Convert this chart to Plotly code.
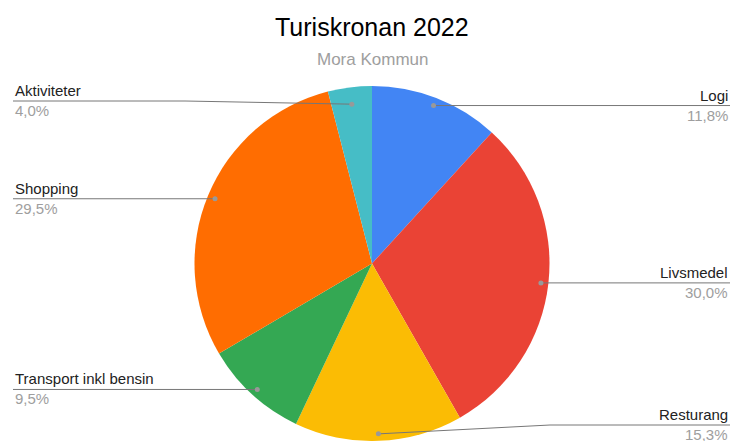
import math
import plotly.graph_objects as go

# ---------------- data ----------------
categories = ["Logi", "Livsmedel", "Resturang", "Transport inkl bensin", "Shopping", "Aktiviteter"]
values = [11.8, 30.0, 15.3, 9.5, 29.5, 4.0]
colors = ["#4285F4", "#EA4335", "#FBBC04", "#34A853", "#FF6D01", "#46BDC6"]
title_text = "Turiskronan 2022"
subtitle_text = "Mora Kommun"

# ---------------- layout constants (page pixels) ----------------
W, H = 733, 441
CX, CY, R = 372.0, 264.0, 178.0
FONT = "Liberation Sans, Arial, Helvetica, sans-serif"
LEFT_X, RIGHT_X = 13, 730
dot_factor = {"Aktiviteter": 0.905}
line_y_override = {"Resturang": 425, "Aktiviteter": 101}
elbow_x_override = {"Resturang": 550, "Aktiviteter": 185}


def px(x):
    return x / W


def py(y):
    return 1 - y / H


fig = go.Figure()
fig.add_trace(go.Pie(
    labels=categories,
    values=values,
    sort=False,
    direction="clockwise",
    rotation=0,
    marker=dict(colors=colors, line=dict(width=0)),
    textinfo="none",
    hoverinfo="skip",
    showlegend=False,
    domain=dict(x=[px(CX - R), px(CX + R)], y=[max(0, py(CY + R)), py(CY - R)]),
))

shapes = []
annotations = []
total = sum(values)
cum = 0.0
for name, v in zip(categories, values):
    mid = (cum + v / 2) / total * 2 * math.pi
    cum += v
    r = R * dot_factor.get(name, 0.955)
    dx = CX + r * math.sin(mid)
    dy = CY - r * math.cos(mid)
    right = math.sin(mid) >= 0
    ly = line_y_override.get(name, dy)
    ex = elbow_x_override.get(name, dx)
    end_x = RIGHT_X if right else LEFT_X
    path = f"M {px(dx)} {py(dy)} L {px(ex)} {py(ly)} L {px(end_x)} {py(ly)}"
    shapes.append(dict(type="path", xref="paper", yref="paper", path=path,
                       line=dict(color="#777777", width=1)))
    shapes.append(dict(type="circle", xref="paper", yref="paper",
                       x0=px(dx - 2.5), x1=px(dx + 2.5), y0=py(dy + 2.5), y1=py(dy - 2.5),
                       fillcolor="#999999", line=dict(width=0)))
    pct = f"{v / total * 100:.1f}".replace(".", ",") + "%"
    anchor = "right" if right else "left"
    annotations.append(dict(xref="paper", yref="paper", x=px(end_x), y=py(ly - 10.5),
                            text=name, showarrow=False, xanchor=anchor, yanchor="middle",
                            font=dict(family=FONT, size=15, color="#222222")))
    annotations.append(dict(xref="paper", yref="paper", x=px(end_x), y=py(ly + 9.5),
                            text=pct, showarrow=False, xanchor=anchor, yanchor="middle",
                            font=dict(family=FONT, size=15, color="#9E9E9E")))

annotations.append(dict(xref="paper", yref="paper", x=px(CX), y=py(27), text=title_text,
                        showarrow=False, xanchor="center", yanchor="middle",
                        font=dict(family=FONT, size=25, color="#000000")))
annotations.append(dict(xref="paper", yref="paper", x=px(CX), y=py(59), text=subtitle_text,
                        showarrow=False, xanchor="center", yanchor="middle",
                        font=dict(family=FONT, size=17, color="#9E9E9E")))

fig.update_layout(
    width=W, height=H,
    margin=dict(l=0, r=0, t=0, b=0),
    paper_bgcolor="white",
    plot_bgcolor="white",
    shapes=shapes,
    annotations=annotations,
    showlegend=False,
)

fig.write_html(
    "out.html",
    config={"displayModeBar": False, "staticPlot": True},
    post_script="document.body.style.margin='0';document.body.style.overflow='hidden';",
)
